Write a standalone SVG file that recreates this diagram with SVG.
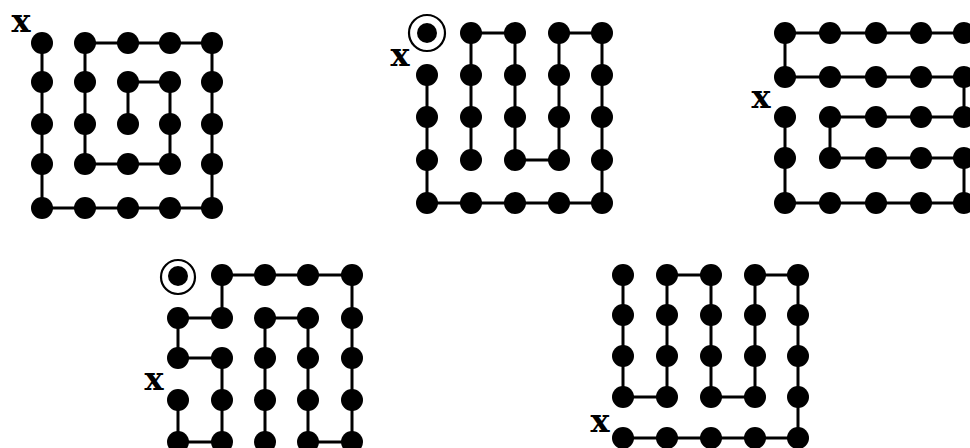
<svg xmlns="http://www.w3.org/2000/svg" width="970" height="448" viewBox="0 0 970 448">
<style>
.edge{fill:none;stroke:#000;stroke-width:3;stroke-linejoin:miter;stroke-linecap:square}
.node circle{fill:#000}
.node circle.ring{fill:none;stroke:#000;stroke-width:2.2}
.lbl{font-family:"DejaVu Serif",serif;font-weight:bold;font-size:32px;fill:#000;text-anchor:middle}
</style>
<rect width="970" height="448" fill="#fff"/>
<g id="connectors">
<polyline class="edge" points="42,43 42,208 212,208 212,43 85,43 85,164 170,164 170,82 128,82 128,124"/>
<polyline class="edge" points="427,75 427,203 602,203 602,33 559,33 559,160 515,160 515,33 471,33 471,160"/>
<polyline class="edge" points="785,117 785,203 964,203 964,158 830,158 830,117 964,117 964,77 785,77 785,33 964,33"/>
<polyline class="edge" points="178,400 178,442 222,442 222,358 178,358 178,318 222,318 222,275 352,275 352,442 308,442 308,318 265,318 265,442"/>
<polyline class="edge" points="623,438 798,438 798,275 755,275 755,397 711,397 711,275 667,275 667,397 623,397 623,275"/>
</g>
<g id="grid1">
<g id="a11" class="node"><circle cx="42" cy="43" r="11"/></g>
<g id="a12" class="node"><circle cx="85" cy="43" r="11"/></g>
<g id="a13" class="node"><circle cx="128" cy="43" r="11"/></g>
<g id="a14" class="node"><circle cx="170" cy="43" r="11"/></g>
<g id="a15" class="node"><circle cx="212" cy="43" r="11"/></g>
<g id="a21" class="node"><circle cx="42" cy="82" r="11"/></g>
<g id="a22" class="node"><circle cx="85" cy="82" r="11"/></g>
<g id="a23" class="node"><circle cx="128" cy="82" r="11"/></g>
<g id="a24" class="node"><circle cx="170" cy="82" r="11"/></g>
<g id="a25" class="node"><circle cx="212" cy="82" r="11"/></g>
<g id="a31" class="node"><circle cx="42" cy="124" r="11"/></g>
<g id="a32" class="node"><circle cx="85" cy="124" r="11"/></g>
<g id="a33" class="node"><circle cx="128" cy="124" r="11"/></g>
<g id="a34" class="node"><circle cx="170" cy="124" r="11"/></g>
<g id="a35" class="node"><circle cx="212" cy="124" r="11"/></g>
<g id="a41" class="node"><circle cx="42" cy="164" r="11"/></g>
<g id="a42" class="node"><circle cx="85" cy="164" r="11"/></g>
<g id="a43" class="node"><circle cx="128" cy="164" r="11"/></g>
<g id="a44" class="node"><circle cx="170" cy="164" r="11"/></g>
<g id="a45" class="node"><circle cx="212" cy="164" r="11"/></g>
<g id="a51" class="node"><circle cx="42" cy="208" r="11"/></g>
<g id="a52" class="node"><circle cx="85" cy="208" r="11"/></g>
<g id="a53" class="node"><circle cx="128" cy="208" r="11"/></g>
<g id="a54" class="node"><circle cx="170" cy="208" r="11"/></g>
<g id="a55" class="node"><circle cx="212" cy="208" r="11"/></g>
<text class="lbl" x="21" y="32">x</text>
</g>
<g id="grid2">
<g id="b11" class="node"><circle cx="427" cy="33" r="10"/><circle class="ring" cx="427" cy="33" r="18"/></g>
<g id="b12" class="node"><circle cx="471" cy="33" r="11"/></g>
<g id="b13" class="node"><circle cx="515" cy="33" r="11"/></g>
<g id="b14" class="node"><circle cx="559" cy="33" r="11"/></g>
<g id="b15" class="node"><circle cx="602" cy="33" r="11"/></g>
<g id="b21" class="node"><circle cx="427" cy="75" r="11"/></g>
<g id="b22" class="node"><circle cx="471" cy="75" r="11"/></g>
<g id="b23" class="node"><circle cx="515" cy="75" r="11"/></g>
<g id="b24" class="node"><circle cx="559" cy="75" r="11"/></g>
<g id="b25" class="node"><circle cx="602" cy="75" r="11"/></g>
<g id="b31" class="node"><circle cx="427" cy="117" r="11"/></g>
<g id="b32" class="node"><circle cx="471" cy="117" r="11"/></g>
<g id="b33" class="node"><circle cx="515" cy="117" r="11"/></g>
<g id="b34" class="node"><circle cx="559" cy="117" r="11"/></g>
<g id="b35" class="node"><circle cx="602" cy="117" r="11"/></g>
<g id="b41" class="node"><circle cx="427" cy="160" r="11"/></g>
<g id="b42" class="node"><circle cx="471" cy="160" r="11"/></g>
<g id="b43" class="node"><circle cx="515" cy="160" r="11"/></g>
<g id="b44" class="node"><circle cx="559" cy="160" r="11"/></g>
<g id="b45" class="node"><circle cx="602" cy="160" r="11"/></g>
<g id="b51" class="node"><circle cx="427" cy="203" r="11"/></g>
<g id="b52" class="node"><circle cx="471" cy="203" r="11"/></g>
<g id="b53" class="node"><circle cx="515" cy="203" r="11"/></g>
<g id="b54" class="node"><circle cx="559" cy="203" r="11"/></g>
<g id="b55" class="node"><circle cx="602" cy="203" r="11"/></g>
<text class="lbl" x="400" y="66">x</text>
</g>
<g id="grid3">
<g id="c11" class="node"><circle cx="785" cy="33" r="11"/></g>
<g id="c12" class="node"><circle cx="830" cy="33" r="11"/></g>
<g id="c13" class="node"><circle cx="876" cy="33" r="11"/></g>
<g id="c14" class="node"><circle cx="921" cy="33" r="11"/></g>
<g id="c15" class="node"><circle cx="964" cy="33" r="11"/></g>
<g id="c21" class="node"><circle cx="785" cy="77" r="11"/></g>
<g id="c22" class="node"><circle cx="830" cy="77" r="11"/></g>
<g id="c23" class="node"><circle cx="876" cy="77" r="11"/></g>
<g id="c24" class="node"><circle cx="921" cy="77" r="11"/></g>
<g id="c25" class="node"><circle cx="964" cy="77" r="11"/></g>
<g id="c31" class="node"><circle cx="785" cy="117" r="11"/></g>
<g id="c32" class="node"><circle cx="830" cy="117" r="11"/></g>
<g id="c33" class="node"><circle cx="876" cy="117" r="11"/></g>
<g id="c34" class="node"><circle cx="921" cy="117" r="11"/></g>
<g id="c35" class="node"><circle cx="964" cy="117" r="11"/></g>
<g id="c41" class="node"><circle cx="785" cy="158" r="11"/></g>
<g id="c42" class="node"><circle cx="830" cy="158" r="11"/></g>
<g id="c43" class="node"><circle cx="876" cy="158" r="11"/></g>
<g id="c44" class="node"><circle cx="921" cy="158" r="11"/></g>
<g id="c45" class="node"><circle cx="964" cy="158" r="11"/></g>
<g id="c51" class="node"><circle cx="785" cy="203" r="11"/></g>
<g id="c52" class="node"><circle cx="830" cy="203" r="11"/></g>
<g id="c53" class="node"><circle cx="876" cy="203" r="11"/></g>
<g id="c54" class="node"><circle cx="921" cy="203" r="11"/></g>
<g id="c55" class="node"><circle cx="964" cy="203" r="11"/></g>
<text class="lbl" x="761" y="108">x</text>
</g>
<g id="grid4">
<g id="d11" class="node"><circle cx="178" cy="276" r="10"/><circle class="ring" cx="178" cy="277" r="17"/></g>
<g id="d12" class="node"><circle cx="222" cy="275" r="11"/></g>
<g id="d13" class="node"><circle cx="265" cy="275" r="11"/></g>
<g id="d14" class="node"><circle cx="308" cy="275" r="11"/></g>
<g id="d15" class="node"><circle cx="352" cy="275" r="11"/></g>
<g id="d21" class="node"><circle cx="178" cy="318" r="11"/></g>
<g id="d22" class="node"><circle cx="222" cy="318" r="11"/></g>
<g id="d23" class="node"><circle cx="265" cy="318" r="11"/></g>
<g id="d24" class="node"><circle cx="308" cy="318" r="11"/></g>
<g id="d25" class="node"><circle cx="352" cy="318" r="11"/></g>
<g id="d31" class="node"><circle cx="178" cy="358" r="11"/></g>
<g id="d32" class="node"><circle cx="222" cy="358" r="11"/></g>
<g id="d33" class="node"><circle cx="265" cy="358" r="11"/></g>
<g id="d34" class="node"><circle cx="308" cy="358" r="11"/></g>
<g id="d35" class="node"><circle cx="352" cy="358" r="11"/></g>
<g id="d41" class="node"><circle cx="178" cy="400" r="11"/></g>
<g id="d42" class="node"><circle cx="222" cy="400" r="11"/></g>
<g id="d43" class="node"><circle cx="265" cy="400" r="11"/></g>
<g id="d44" class="node"><circle cx="308" cy="400" r="11"/></g>
<g id="d45" class="node"><circle cx="352" cy="400" r="11"/></g>
<g id="d51" class="node"><circle cx="178" cy="442" r="11"/></g>
<g id="d52" class="node"><circle cx="222" cy="442" r="11"/></g>
<g id="d53" class="node"><circle cx="265" cy="442" r="11"/></g>
<g id="d54" class="node"><circle cx="308" cy="442" r="11"/></g>
<g id="d55" class="node"><circle cx="352" cy="442" r="11"/></g>
<text class="lbl" x="154" y="390">x</text>
</g>
<g id="grid5">
<g id="e11" class="node"><circle cx="623" cy="275" r="11"/></g>
<g id="e12" class="node"><circle cx="667" cy="275" r="11"/></g>
<g id="e13" class="node"><circle cx="711" cy="275" r="11"/></g>
<g id="e14" class="node"><circle cx="755" cy="275" r="11"/></g>
<g id="e15" class="node"><circle cx="798" cy="275" r="11"/></g>
<g id="e21" class="node"><circle cx="623" cy="315" r="11"/></g>
<g id="e22" class="node"><circle cx="667" cy="315" r="11"/></g>
<g id="e23" class="node"><circle cx="711" cy="315" r="11"/></g>
<g id="e24" class="node"><circle cx="755" cy="315" r="11"/></g>
<g id="e25" class="node"><circle cx="798" cy="315" r="11"/></g>
<g id="e31" class="node"><circle cx="623" cy="356" r="11"/></g>
<g id="e32" class="node"><circle cx="667" cy="356" r="11"/></g>
<g id="e33" class="node"><circle cx="711" cy="356" r="11"/></g>
<g id="e34" class="node"><circle cx="755" cy="356" r="11"/></g>
<g id="e35" class="node"><circle cx="798" cy="356" r="11"/></g>
<g id="e41" class="node"><circle cx="623" cy="397" r="11"/></g>
<g id="e42" class="node"><circle cx="667" cy="397" r="11"/></g>
<g id="e43" class="node"><circle cx="711" cy="397" r="11"/></g>
<g id="e44" class="node"><circle cx="755" cy="397" r="11"/></g>
<g id="e45" class="node"><circle cx="798" cy="397" r="11"/></g>
<g id="e51" class="node"><circle cx="623" cy="438" r="11"/></g>
<g id="e52" class="node"><circle cx="667" cy="438" r="11"/></g>
<g id="e53" class="node"><circle cx="711" cy="438" r="11"/></g>
<g id="e54" class="node"><circle cx="755" cy="438" r="11"/></g>
<g id="e55" class="node"><circle cx="798" cy="438" r="11"/></g>
<text class="lbl" x="600" y="432">x</text>
</g>
</svg>
